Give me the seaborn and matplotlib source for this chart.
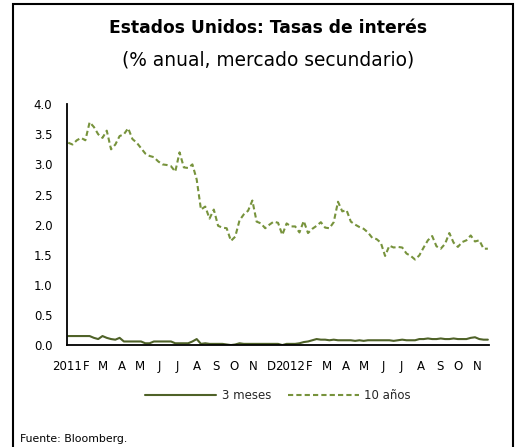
import matplotlib
matplotlib.use('Agg')
import matplotlib.pyplot as plt
from matplotlib.patches import Rectangle
import seaborn as sns
import numpy as np
import pandas as pd

sns.set_theme(style="white")
plt.rcParams['font.family'] = ['DejaVu Sans']

# weekly observations (Mondays), Jan 2011 - Nov 2012
week_start = "2011-01-03"

# 3-month rate (%)
rate_3m = [
    0.15, 0.15, 0.15, 0.15, 0.15, 0.15, 0.12, 0.10, 0.15, 0.12, 0.10, 0.09, 0.12,
    0.06, 0.06, 0.06, 0.06, 0.06, 0.03, 0.03, 0.06, 0.06, 0.06, 0.06, 0.06, 0.03,
    0.03, 0.03, 0.03, 0.06, 0.10, 0.02, 0.03, 0.02, 0.02, 0.02, 0.02, 0.01, 0.00,
    0.01, 0.03, 0.02, 0.02, 0.02, 0.02, 0.02, 0.02, 0.02, 0.02, 0.02, 0.00, 0.02,
    0.02, 0.02, 0.03, 0.05, 0.06, 0.08, 0.10, 0.09, 0.09, 0.08, 0.09, 0.08, 0.08,
    0.08, 0.08, 0.07, 0.08, 0.07, 0.08, 0.08, 0.08, 0.08, 0.08, 0.08, 0.07, 0.08,
    0.09, 0.08, 0.08, 0.08, 0.10, 0.10, 0.11, 0.10, 0.10, 0.11, 0.10, 0.10, 0.11,
    0.10, 0.10, 0.10, 0.12, 0.13, 0.10, 0.09, 0.09,
]

# 10-year rate (%)
rate_10y = [
    3.36, 3.33, 3.40, 3.44, 3.40, 3.70, 3.62, 3.50, 3.44, 3.56, 3.25, 3.33, 3.47,
    3.50, 3.60, 3.42, 3.36, 3.27, 3.18, 3.14, 3.12, 3.05, 3.00, 2.99, 2.97, 2.88,
    3.20, 2.95, 2.94, 3.00, 2.75, 2.25, 2.30, 2.10, 2.25, 1.98, 1.95, 1.94, 1.73,
    1.80, 2.07, 2.17, 2.23, 2.40, 2.05, 2.02, 1.94, 2.00, 2.05, 2.03, 1.83, 2.02,
    1.97, 1.97, 1.87, 2.06, 1.86, 1.93, 1.98, 2.04, 1.95, 1.94, 2.04, 2.38, 2.22,
    2.24, 2.05, 2.00, 1.96, 1.93, 1.87, 1.78, 1.76, 1.70, 1.48, 1.65, 1.62, 1.63,
    1.62, 1.52, 1.48, 1.42, 1.49, 1.62, 1.74, 1.81, 1.64, 1.60, 1.68, 1.86, 1.70,
    1.63, 1.71, 1.74, 1.82, 1.72, 1.74, 1.60, 1.60,
]

month_labels = ["2011", "F", "M", "A", "M", "J", "J", "A", "S", "O", "N", "D",
                "2012", "F", "M", "A", "M", "J", "J", "A", "S", "O", "N"]
y_ticks = [0.0, 0.5, 1.0, 1.5, 2.0, 2.5, 3.0, 3.5, 4.0]

dates = pd.date_range(week_start, periods=len(rate_10y), freq="7D")
df = pd.DataFrame({"fecha": dates, "3 meses": rate_3m, "10 años": rate_10y})

fig = plt.figure(figsize=(5.17, 4.47), dpi=100)
fig.patch.set_facecolor("white")
ax = fig.add_axes([0.1296, 0.228, 0.8164, 0.539])

sns.lineplot(data=df, x="fecha", y="3 meses", ax=ax, color="#4F6228", lw=1.5,
             label="3 meses")
sns.lineplot(data=df, x="fecha", y="10 años", ax=ax, color="#77933C", lw=1.5,
             linestyle=(0, (2.5, 1.5)), label="10 años")

# axes and ticks
ax.set_ylim(0, 4.0)
ax.set_yticks(y_ticks)
ax.set_yticklabels([f"{v:.1f}" for v in y_ticks])
month_ticks = pd.date_range("2011-01-01", periods=len(month_labels), freq="MS")
ax.set_xticks(month_ticks)
ax.set_xticklabels(month_labels)
ax.set_xlim(pd.Timestamp("2011-01-01"), pd.Timestamp("2012-11-21"))
ax.set_xlabel("")
ax.set_ylabel("")
ax.tick_params(axis="both", which="major", labelsize=8.5, colors="black",
               length=3.5, width=1.2, direction="out")
ax.tick_params(axis="y", pad=7)
ax.tick_params(axis="x", pad=7)
for side in ["top", "right"]:
    ax.spines[side].set_visible(False)
for side in ["left", "bottom"]:
    ax.spines[side].set_color("black")
    ax.spines[side].set_linewidth(1.3)
ax.grid(False)

ax.legend(loc="upper center", bbox_to_anchor=(0.5, -0.14), ncol=2, frameon=False,
          fontsize=8.5, handlelength=6.0, columnspacing=1.4, handletextpad=0.5)

# titles
fig.text(0.518, 0.937, "Estados Unidos: Tasas de interés", ha="center", va="center",
         fontsize=12.3, fontweight="bold", color="black")
fig.text(0.518, 0.866, "(% anual, mercado secundario)", ha="center", va="center",
         fontsize=13.4, color="black")
fig.text(0.038, 0.030, "Fuente: Bloomberg.", ha="left", va="top", fontsize=7.8,
         color="black")

# outer frame
fig.patches.append(Rectangle((13 / 517, -0.05), 500 / 517, 1.05 - 4 / 447,
                             transform=fig.transFigure, fill=False,
                             edgecolor="black", linewidth=1.5))

fig.savefig("out.png", dpi=100, facecolor="white")
plt.close(fig)
